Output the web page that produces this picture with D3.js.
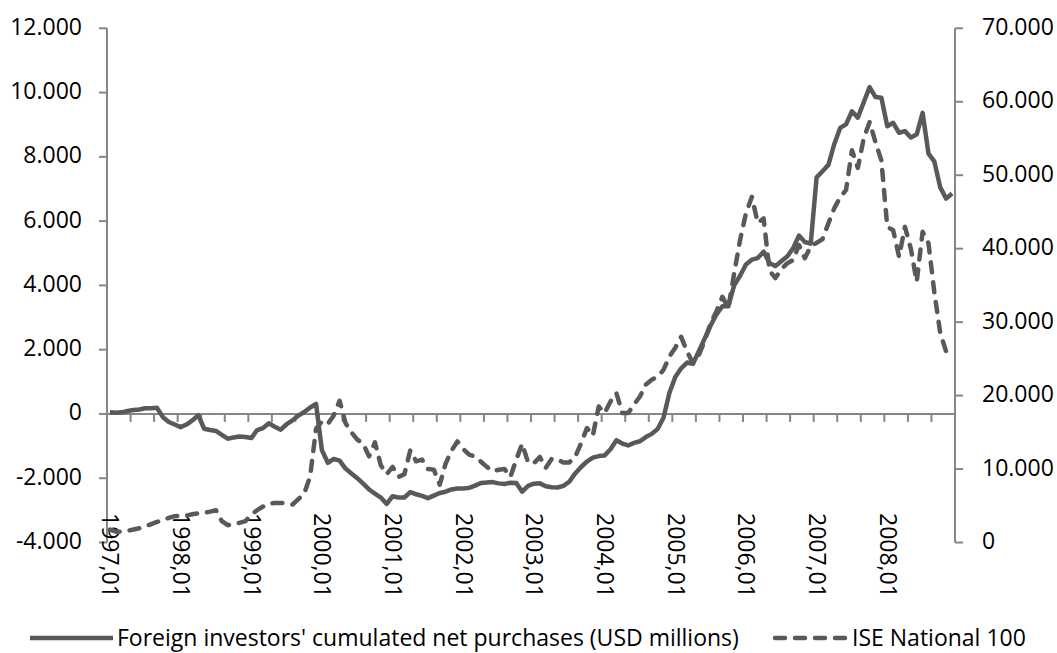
<!DOCTYPE html>
<html>
<head>
    <meta charset="utf-8">
    <script src="https://d3js.org/d3.v7.min.js"></script>
    <style>
        body {
            margin: 0;
            background: white;
        }

        text {
            font-family: "Open Sans", sans-serif;
            font-size: 23px;
            fill: #000;
        }

        .axis-line {
            stroke: #868686;
            stroke-width: 2px;
            fill: none;
        }

        .series {
            fill: none;
            stroke: #595959;
            stroke-width: 4.5px;
            stroke-linejoin: round;
        }

        .dashed {
            stroke-dasharray: 10, 10;
            stroke-linecap: round;
        }
    </style>
</head>
<body>
    <script>
        // label of every january shown on the category axis
        var years = ["1997", "1998", "1999", "2000", "2001", "2002", "2003", "2004", "2005", "2006", "2007", "2008"];
        var monthNames = ["01", "02", "03", "04", "05", "06", "07", "08", "09", "10", "11", "12"];

        // foreign investors' cumulated net purchases, USD millions (left axis)
        var foreignNet = [
            50, 40, 50, 90, 120, 140, 175, 180, 190, -100, -250, -330,
            -410, -330, -200, -40, -460, -500, -530, -650, -770, -730, -700, -720,
            -750, -500, -440, -290, -400, -490, -320, -200, -50, 60, 200, 310,
            -1130, -1520, -1400, -1450, -1700, -1850, -2000, -2170, -2350, -2480, -2600, -2800,
            -2560, -2600, -2600, -2430, -2500, -2550, -2620, -2540, -2460, -2420, -2350, -2320,
            -2320, -2300, -2230, -2150, -2130, -2120, -2160, -2180, -2140, -2150, -2420, -2240,
            -2170, -2160, -2250, -2280, -2290, -2240, -2110, -1850, -1650, -1480, -1360, -1310,
            -1290, -1100, -820, -920, -980, -900, -850, -720, -620, -470, -120, 650,
            1150, 1420, 1600, 1560, 1950, 2350, 2750, 3100, 3350, 3350, 4000, 4300,
            4650, 4800, 4850, 5050, 4700, 4600, 4750, 4900, 5150, 5550, 5350, 5300,
            7360, 7550, 7750, 8400, 8900, 9010, 9420, 9220, 9700, 10170, 9860, 9840,
            8950, 9060, 8750, 8800, 8600, 8700, 9370, 8100, 7850, 7050, 6700, 6860
        ];

        // ISE National 100 index (right axis), last month not shown
        var ise100 = [
            1750, 1500, 1450, 1600, 1770, 1950, 2200, 2500, 2800, 3100, 3350, 3580,
            3620, 3670, 3850, 3960, 4030, 4200, 4390, 2900, 2360, 2500, 2670, 2900,
            3800, 4400, 4900, 5250, 5390, 5390, 5300, 5170, 5900, 6700, 9000, 15500,
            16480, 16150, 17300, 19300, 16260, 15000, 14000, 13450, 11730, 13630, 10500, 9300,
            10290, 8930, 9300, 12540, 11050, 11280, 10010, 9920, 7880, 10730, 12500, 13760,
            12730, 11960, 11700, 11000, 10300, 9690, 9900, 10010, 8930, 11280, 13450, 10900,
            10800, 11640, 10150, 11370, 11300, 10900, 10900, 11640, 13500, 15580, 14540, 18520,
            17620, 19200, 20340, 17620, 17620, 18800, 19880, 21500, 22150, 22600, 23500, 25310,
            26500, 28000, 26000, 24410, 25500, 27500, 29850, 31500, 33460, 31890, 36640, 41170,
            44800, 47050, 43500, 44120, 37000, 36000, 37200, 38000, 38450, 40500, 38700, 40300,
            40800, 41300, 43440, 45500, 47000, 48000, 53400, 51000, 55000, 57240, 54500, 52000,
            42970, 42500, 38900, 42970, 40000, 35500, 42300, 40720, 34000, 28490, 25990, null
        ];

        var leftTicks = [-4000, -2000, 0, 2000, 4000, 6000, 8000, 10000, 12000];
        var rightTicks = [0, 10000, 20000, 30000, 40000, 50000, 60000, 70000];
        var seriesNames = ["Foreign investors' cumulated net purchases (USD millions)", "ISE National 100"];

        // category names like 1997,01
        var categories = [];
        years.forEach(function (y) {
            monthNames.forEach(function (m) { categories.push(y + "," + m); });
        });

        var plot = { left: 107, right: 955, top: 28.3, bottom: 542.5 };

        var svg = d3.select("body").append("svg")
            .attr("width", 1057).attr("height", 653);

        var x = d3.scaleBand().domain(categories).range([plot.left, plot.right]).padding(0);
        var yLeft = d3.scaleLinear().domain([-4000, 12000]).range([plot.bottom, plot.top]);
        var yRight = d3.scaleLinear().domain([0, 70000]).range([plot.bottom, plot.top]);

        // 12.000 style numbers
        var fmt = d3.formatLocale({ decimal: ",", thousands: ".", grouping: [3], currency: ["", ""], minus: "-" }).format(",");

        function cx(i) { return x(categories[i]) + x.bandwidth() / 2; }

        // left axis
        svg.append("line").attr("class", "axis-line")
            .attr("x1", plot.left).attr("x2", plot.left)
            .attr("y1", plot.top).attr("y2", plot.bottom);
        svg.append("g").selectAll("line").data(leftTicks).enter().append("line")
            .attr("class", "axis-line")
            .attr("x1", plot.left - 8).attr("x2", plot.left)
            .attr("y1", function (d) { return yLeft(d); })
            .attr("y2", function (d) { return yLeft(d); });
        svg.append("g").selectAll("text").data(leftTicks).enter().append("text")
            .attr("x", 82)
            .attr("y", function (d) { return yLeft(d) + 6.5; })
            .attr("text-anchor", "end")
            .text(function (d) { return fmt(d); });

        // right axis
        svg.append("line").attr("class", "axis-line")
            .attr("x1", plot.right).attr("x2", plot.right)
            .attr("y1", plot.top).attr("y2", plot.bottom);
        svg.append("g").selectAll("line").data(rightTicks).enter().append("line")
            .attr("class", "axis-line")
            .attr("x1", plot.right).attr("x2", plot.right + 8)
            .attr("y1", function (d) { return yRight(d); })
            .attr("y2", function (d) { return yRight(d); });
        svg.append("g").selectAll("text").data(rightTicks).enter().append("text")
            .attr("x", 982)
            .attr("y", function (d) { return yRight(d) + 6.5; })
            .attr("text-anchor", "start")
            .text(function (d) { return fmt(d); });

        // category axis crosses at zero, ticks every 4 months on band edges
        var y0 = yLeft(0);
        svg.append("line").attr("class", "axis-line")
            .attr("x1", plot.left).attr("x2", plot.right)
            .attr("y1", y0).attr("y2", y0);
        var tickIdx = d3.range(0, categories.length + 1, 4);
        svg.append("g").selectAll("line").data(tickIdx).enter().append("line")
            .attr("class", "axis-line")
            .attr("x1", function (d) { return plot.left + d * x.bandwidth(); })
            .attr("x2", function (d) { return plot.left + d * x.bandwidth(); })
            .attr("y1", y0).attr("y2", y0 + 8);

        // january labels down at the bottom, turned 90 degrees
        var janIdx = d3.range(0, categories.length, 12);
        svg.append("g").selectAll("text").data(janIdx).enter().append("text")
            .attr("transform", function (d) { return "translate(" + cx(d) + ",513) rotate(90)"; })
            .attr("dy", 7.6)
            .text(function (d) { return categories[d]; });

        // the two series
        var lineLeft = d3.line()
            .defined(function (d) { return d != null; })
            .x(function (d, i) { return cx(i); })
            .y(function (d) { return yLeft(d); });
        var lineRight = d3.line()
            .defined(function (d) { return d != null; })
            .x(function (d, i) { return cx(i); })
            .y(function (d) { return yRight(d); });

        svg.append("path").datum(foreignNet)
            .attr("class", "series")
            .attr("d", lineLeft);
        svg.append("path").datum(ise100)
            .attr("class", "series dashed")
            .attr("d", lineRight);

        // legend
        var legend = svg.append("g");
        legend.append("line").attr("class", "series")
            .attr("x1", 30).attr("x2", 113).attr("y1", 638).attr("y2", 638);
        legend.append("text").attr("x", 117).attr("y", 646).text(seriesNames[0]);
        legend.append("line").attr("class", "series dashed")
            .attr("x1", 775).attr("x2", 847).attr("y1", 638).attr("y2", 638);
        legend.append("text").attr("x", 852).attr("y", 646).text(seriesNames[1]);
    </script>
</body>
</html>
